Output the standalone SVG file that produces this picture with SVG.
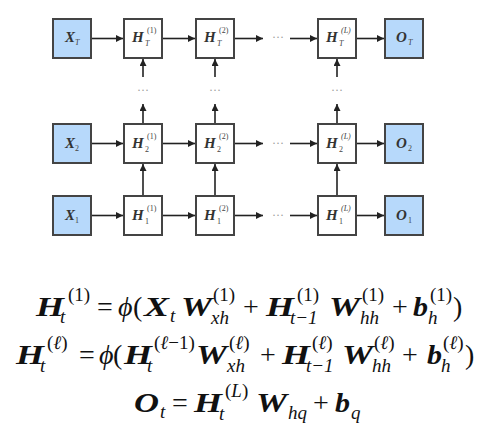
<svg xmlns="http://www.w3.org/2000/svg" width="485" height="430" viewBox="0 0 485 430">
<defs>
<marker id="ah" viewBox="0 0 10 10" refX="10" refY="5" markerWidth="7" markerHeight="7" markerUnits="userSpaceOnUse" orient="auto">
<path d="M0,0 L10,5 L0,10 z" fill="#222"/>
</marker>
<style>
.box{fill:#fff;stroke:#444;stroke-width:2}
.in{fill:#b7d9fb;stroke:#444;stroke-width:2}
.lab{font-family:"Liberation Serif",serif;font-size:15px;font-weight:bold;font-style:italic;fill:#333}
.ls{font-family:"Liberation Serif",serif;font-size:8px;font-style:italic;fill:#444}
.lsu{font-family:"Liberation Serif",serif;font-size:8px;fill:#444}
.dots{font-family:"Liberation Serif",serif;font-size:12px;fill:#999}
.cn line{stroke:#222;stroke-width:1.6;marker-end:url(#ah)}
.m{font-family:"Liberation Serif",serif;font-size:28px;fill:#111}
.bi{font-weight:bold;font-style:italic}
.i{font-style:italic}
.s{font-size:19px}
</style>
</defs>
<rect width="485" height="430" fill="#fff"/>

<g id="row-T">
<g id="XT"><rect class="in" x="53" y="19" width="38" height="39"/><text class="lab" x="65" y="42">X</text><text class="ls" x="75" y="45">T</text></g>
<g id="HT1"><rect class="box" x="124" y="19" width="38" height="39"/><text class="lab" x="132" y="42">H</text><text class="lsu" x="147" y="33">(1)</text><text class="ls" x="145" y="46">T</text></g>
<g id="HT2"><rect class="box" x="196" y="19" width="38" height="39"/><text class="lab" x="204" y="42">H</text><text class="lsu" x="219" y="33">(2)</text><text class="ls" x="217" y="46">T</text></g>
<g id="HTL"><rect class="box" x="318" y="19" width="38" height="39"/><text class="lab" x="326" y="42">H</text><text class="ls" x="341" y="33">(L)</text><text class="ls" x="339" y="46">T</text></g>
<g id="OT"><rect class="in" x="385" y="19" width="38" height="39"/><text class="lab" x="396" y="42">O</text><text class="ls" x="408" y="45">T</text></g>
</g>

<g id="row-2">
<g id="X2"><rect class="in" x="53" y="124" width="38" height="39"/><text class="lab" x="65" y="148">X</text><text class="lsu" x="75" y="151">2</text></g>
<g id="H21"><rect class="box" x="124" y="124" width="38" height="39"/><text class="lab" x="132" y="148">H</text><text class="lsu" x="147" y="139">(1)</text><text class="lsu" x="145" y="152">2</text></g>
<g id="H22"><rect class="box" x="196" y="124" width="38" height="39"/><text class="lab" x="204" y="148">H</text><text class="lsu" x="219" y="139">(2)</text><text class="lsu" x="217" y="152">2</text></g>
<g id="H2L"><rect class="box" x="318" y="124" width="38" height="39"/><text class="lab" x="326" y="148">H</text><text class="ls" x="341" y="139">(L)</text><text class="lsu" x="339" y="152">2</text></g>
<g id="O2"><rect class="in" x="385" y="124" width="38" height="39"/><text class="lab" x="396" y="148">O</text><text class="lsu" x="408" y="151">2</text></g>
</g>

<g id="row-1">
<g id="X1"><rect class="in" x="53" y="196" width="38" height="39"/><text class="lab" x="65" y="220">X</text><text class="lsu" x="75" y="223">1</text></g>
<g id="H11"><rect class="box" x="124" y="196" width="38" height="39"/><text class="lab" x="132" y="220">H</text><text class="lsu" x="147" y="211">(1)</text><text class="lsu" x="145" y="224">1</text></g>
<g id="H12"><rect class="box" x="196" y="196" width="38" height="39"/><text class="lab" x="204" y="220">H</text><text class="lsu" x="219" y="211">(2)</text><text class="lsu" x="217" y="224">1</text></g>
<g id="H1L"><rect class="box" x="318" y="196" width="38" height="39"/><text class="lab" x="326" y="220">H</text><text class="ls" x="341" y="211">(L)</text><text class="lsu" x="339" y="224">1</text></g>
<g id="O1"><rect class="in" x="385" y="196" width="38" height="39"/><text class="lab" x="396" y="220">O</text><text class="lsu" x="408" y="223">1</text></g>
</g>

<g id="dots">
<text class="dots" x="278" y="41" text-anchor="middle">···</text>
<text class="dots" x="278" y="147" text-anchor="middle">···</text>
<text class="dots" x="278" y="219" text-anchor="middle">···</text>
<text class="dots" x="143" y="94" text-anchor="middle">···</text>
<text class="dots" x="215" y="94" text-anchor="middle">···</text>
<text class="dots" x="337" y="94" text-anchor="middle">···</text>
</g>

<g id="connectors" class="cn">
<line x1="92" y1="38.5" x2="123" y2="38.5"/>
<line x1="163" y1="38.5" x2="195" y2="38.5"/>
<line x1="235" y1="38.5" x2="263" y2="38.5"/>
<line x1="290" y1="38.5" x2="317" y2="38.5"/>
<line x1="357" y1="38.5" x2="384" y2="38.5"/>
<line x1="92" y1="143.5" x2="123" y2="143.5"/>
<line x1="163" y1="143.5" x2="195" y2="143.5"/>
<line x1="235" y1="143.5" x2="263" y2="143.5"/>
<line x1="290" y1="143.5" x2="317" y2="143.5"/>
<line x1="357" y1="143.5" x2="384" y2="143.5"/>
<line x1="92" y1="215.5" x2="123" y2="215.5"/>
<line x1="163" y1="215.5" x2="195" y2="215.5"/>
<line x1="235" y1="215.5" x2="263" y2="215.5"/>
<line x1="290" y1="215.5" x2="317" y2="215.5"/>
<line x1="357" y1="215.5" x2="384" y2="215.5"/>
<line x1="143" y1="195" x2="143" y2="164"/>
<line x1="215" y1="195" x2="215" y2="164"/>
<line x1="337" y1="195" x2="337" y2="164"/>
<line x1="143" y1="123" x2="143" y2="104"/>
<line x1="215" y1="123" x2="215" y2="104"/>
<line x1="337" y1="123" x2="337" y2="104"/>
<line x1="143" y1="77" x2="143" y2="59"/>
<line x1="215" y1="77" x2="215" y2="59"/>
<line x1="337" y1="77" x2="337" y2="59"/>
</g>

<g id="equations" class="m">
<text class="bi" x="36" y="316" textLength="28" lengthAdjust="spacingAndGlyphs">H</text><text class="s" x="68" y="301">(1)</text><text class="s i" x="60" y="323">t</text>
<text x="97" y="316">=</text>
<text class="i" x="118" y="316">ϕ</text><text x="133" y="316">(</text>
<text class="bi" x="144" y="316" textLength="25" lengthAdjust="spacingAndGlyphs">X</text><text class="s i" x="170" y="322">t</text>
<text class="bi" x="181" y="316" textLength="31" lengthAdjust="spacingAndGlyphs">W</text><text class="s" x="213" y="301">(1)</text><text class="s i" x="211" y="324">xh</text>
<text x="243" y="316">+</text>
<text class="bi" x="266" y="316" textLength="28" lengthAdjust="spacingAndGlyphs">H</text><text class="s" x="297" y="301">(1)</text><text class="s i" x="290" y="324">t−1</text>
<text class="bi" x="329" y="316" textLength="31" lengthAdjust="spacingAndGlyphs">W</text><text class="s" x="362" y="301">(1)</text><text class="s i" x="360" y="324">hh</text>
<text x="392" y="316">+</text>
<text class="bi" x="413" y="316" textLength="15" lengthAdjust="spacingAndGlyphs">b</text><text class="s" x="430" y="301">(1)</text><text class="s i" x="428" y="324">h</text>
<text x="453" y="316">)</text>

<text class="bi" x="16" y="364" textLength="28" lengthAdjust="spacingAndGlyphs">H</text><text class="s" x="47" y="349"><tspan>(</tspan><tspan class="i">ℓ</tspan><tspan>)</tspan></text><text class="s i" x="40" y="372">t</text>
<text x="79" y="364">=</text>
<text class="i" x="99" y="364">ϕ</text><text x="113" y="364">(</text>
<text class="bi" x="124" y="364" textLength="28" lengthAdjust="spacingAndGlyphs">H</text><text class="s" x="154" y="349"><tspan>(</tspan><tspan class="i">ℓ</tspan><tspan>−1)</tspan></text><text class="s i" x="147" y="372">t</text>
<text class="bi" x="196" y="364" textLength="31" lengthAdjust="spacingAndGlyphs">W</text><text class="s" x="229" y="349"><tspan>(</tspan><tspan class="i">ℓ</tspan><tspan>)</tspan></text><text class="s i" x="227" y="372">xh</text>
<text x="260" y="364">+</text>
<text class="bi" x="282" y="364" textLength="28" lengthAdjust="spacingAndGlyphs">H</text><text class="s" x="312" y="349"><tspan>(</tspan><tspan class="i">ℓ</tspan><tspan>)</tspan></text><text class="s i" x="306" y="372">t−1</text>
<text class="bi" x="342" y="364" textLength="31" lengthAdjust="spacingAndGlyphs">W</text><text class="s" x="374" y="349"><tspan>(</tspan><tspan class="i">ℓ</tspan><tspan>)</tspan></text><text class="s i" x="372" y="372">hh</text>
<text x="402" y="364">+</text>
<text class="bi" x="427" y="364" textLength="15" lengthAdjust="spacingAndGlyphs">b</text><text class="s" x="443" y="349"><tspan>(</tspan><tspan class="i">ℓ</tspan><tspan>)</tspan></text><text class="s i" x="441" y="372">h</text>
<text x="465" y="364">)</text>

<text class="bi" x="134" y="412" textLength="25" lengthAdjust="spacingAndGlyphs">O</text><text class="s i" x="160" y="418">t</text>
<text x="172" y="412">=</text>
<text class="bi" x="194" y="412" textLength="28" lengthAdjust="spacingAndGlyphs">H</text><text class="s" x="225" y="397"><tspan>(</tspan><tspan class="i">L</tspan><tspan>)</tspan></text><text class="s i" x="219" y="420">t</text>
<text class="bi" x="256" y="412" textLength="31" lengthAdjust="spacingAndGlyphs">W</text><text class="s i" x="288" y="419">hq</text>
<text x="313" y="412">+</text>
<text class="bi" x="335" y="412" textLength="15" lengthAdjust="spacingAndGlyphs">b</text><text class="s i" x="351" y="419">q</text>
</g>
</svg>
